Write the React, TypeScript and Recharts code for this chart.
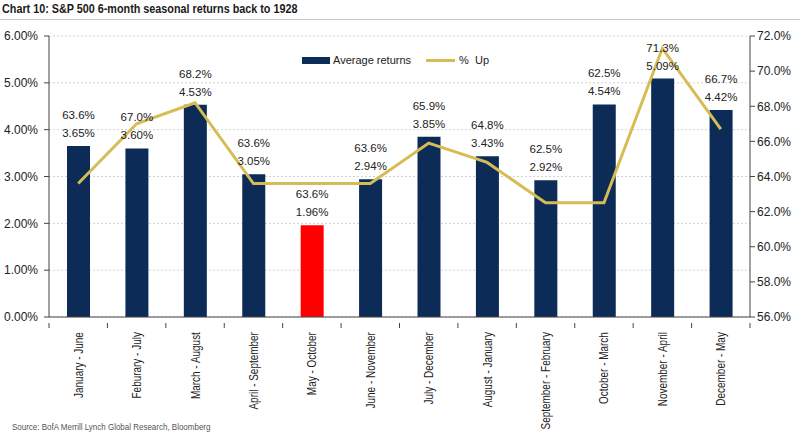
import React from 'react';
import { ComposedChart, Bar, Line, XAxis, YAxis, CartesianGrid, Cell, LabelList, Legend } from 'recharts';

const categories = [
  'January - June', 'Feburary - July', 'March - August', 'April - September', 'May - October', 'June - November',
  'July - December', 'August - January', 'September - February', 'October - March', 'November - April', 'December - May',
];
const averageReturns = [3.65, 3.6, 4.53, 3.05, 1.96, 2.94, 3.85, 3.43, 2.92, 4.54, 5.09, 4.42];
const percentUp = [63.6, 67.0, 68.2, 63.6, 63.6, 63.6, 65.9, 64.8, 62.5, 62.5, 71.3, 66.7];
const leftTicks = [0, 1, 2, 3, 4, 5, 6];
const rightTicks = [56, 58, 60, 62, 64, 66, 68, 70, 72];
const highlighted = 'May - October';

const data = categories.map((c, i) => ({ name: c, ret: averageReturns[i], up: percentUp[i] }));

const NAVY = '#0c2b57';
const RED = '#ff0000';
const GOLD = '#d6bc55';
const FONT = '"Liberation Sans", Arial, sans-serif';
const TXT = '#222';

const XTick = (props: any) => {
  const { x, y, payload, index } = props;
  const half = payload && payload.offset ? payload.offset : 29.2;
  const axisY = y - 2;
  return (
    <g>
      <line x1={x - half} x2={x - half} y1={axisY} y2={axisY + 5} stroke="#444" />
      {index === categories.length - 1 && (
        <line x1={x + half} x2={x + half} y1={axisY} y2={axisY + 5} stroke="#444" />
      )}
      <g transform={`translate(${x},${axisY})`}>
        <text transform="rotate(-90) scale(0.83 1)" x={-11} y={0} dy={4.5} textAnchor="end" fontSize={12} fill={TXT} fontFamily={FONT}>
          {payload.value}
        </text>
      </g>
    </g>
  );
};

const BarLabels = (props: any) => {
  const { x, y, width, index } = props;
  const cx = x + width / 2;
  return (
    <g fontFamily={FONT} fontSize={11.5} fill={TXT} textAnchor="middle">
      <text x={cx} y={y - 9}>{averageReturns[index].toFixed(2)}%</text>
      <text x={cx} y={y - 27}>{percentUp[index].toFixed(1)}%</text>
    </g>
  );
};

const LegendContent = () => (
  <div style={{ display: 'flex', alignItems: 'center', fontFamily: FONT, fontSize: 11, color: TXT, whiteSpace: 'nowrap' }}>
    <div style={{ width: 28, height: 7, background: NAVY, marginRight: 3 }} />
    <span style={{ marginRight: 15 }}>Average returns</span>
    <div style={{ width: 29, height: 3, background: GOLD, marginRight: 4 }} />
    <span>%&nbsp;&nbsp;Up</span>
  </div>
);

export default function App() {
  return (
    <div style={{ position: 'absolute', left: 0, top: 0, width: 800, height: 437, background: '#fff', overflow: 'hidden' }}>
      <div style={{ position: 'absolute', left: 2, top: 1, fontFamily: FONT, fontWeight: 700, fontSize: 13, color: '#1a1a1a', whiteSpace: 'nowrap', transform: 'scaleX(0.83)', transformOrigin: 'left top' }}>
        Chart 10: S&amp;P 500 6-month seasonal returns back to 1928
      </div>
      <div style={{ position: 'absolute', left: 0, top: 19, width: 800, height: 1, background: '#c8c8c8' }} />
      <div style={{ position: 'absolute', left: 0, top: 0 }}>
        <ComposedChart width={800} height={437} data={data} margin={{ top: 36, right: 5, left: 4, bottom: 10 }} barSize={23}>
          <CartesianGrid yAxisId="left" horizontal vertical={false} stroke="#d2d2d2" strokeDasharray="2 2" />
          <XAxis dataKey="name" interval={0} height={110} tickLine={false} tick={<XTick />} axisLine={{ stroke: '#444' }} />
          <YAxis yAxisId="left" width={45} domain={[0, 6]} ticks={leftTicks} tickFormatter={(v: number) => v.toFixed(2) + '%'}
            tick={{ fontSize: 12, fill: TXT, fontFamily: FONT }} tickSize={5} tickMargin={6} axisLine={{ stroke: '#444' }} tickLine={{ stroke: '#444' }} />
          <YAxis yAxisId="right" orientation="right" width={45} domain={[56, 72]} ticks={rightTicks} tickFormatter={(v: number) => v.toFixed(1) + '%'}
            tick={{ fontSize: 12, fill: TXT, fontFamily: FONT }} tickSize={5} tickMargin={2} axisLine={{ stroke: '#444' }} tickLine={{ stroke: '#444' }} />
          <Legend verticalAlign="middle" align="center" content={<LegendContent />} wrapperStyle={{ position: 'absolute', top: 54, left: 302, width: 'auto' }} />
          <Bar yAxisId="left" dataKey="ret" name="Average returns" isAnimationActive={false}>
            {data.map((d) => (
              <Cell key={d.name} fill={d.name === highlighted ? RED : NAVY} />
            ))}
            <LabelList dataKey="ret" content={<BarLabels />} />
          </Bar>
          <Line yAxisId="right" dataKey="up" name="% Up" stroke={GOLD} strokeWidth={3} dot={false} type="linear" isAnimationActive={false} />
        </ComposedChart>
      </div>
      <div style={{ position: 'absolute', left: 12, top: 421, fontFamily: FONT, fontSize: 9.5, color: '#555', whiteSpace: 'nowrap', transform: 'scaleX(0.84)', transformOrigin: 'left top' }}>
        Source: BofA Merrill Lynch Global Research, Bloomberg
      </div>
    </div>
  );
}
